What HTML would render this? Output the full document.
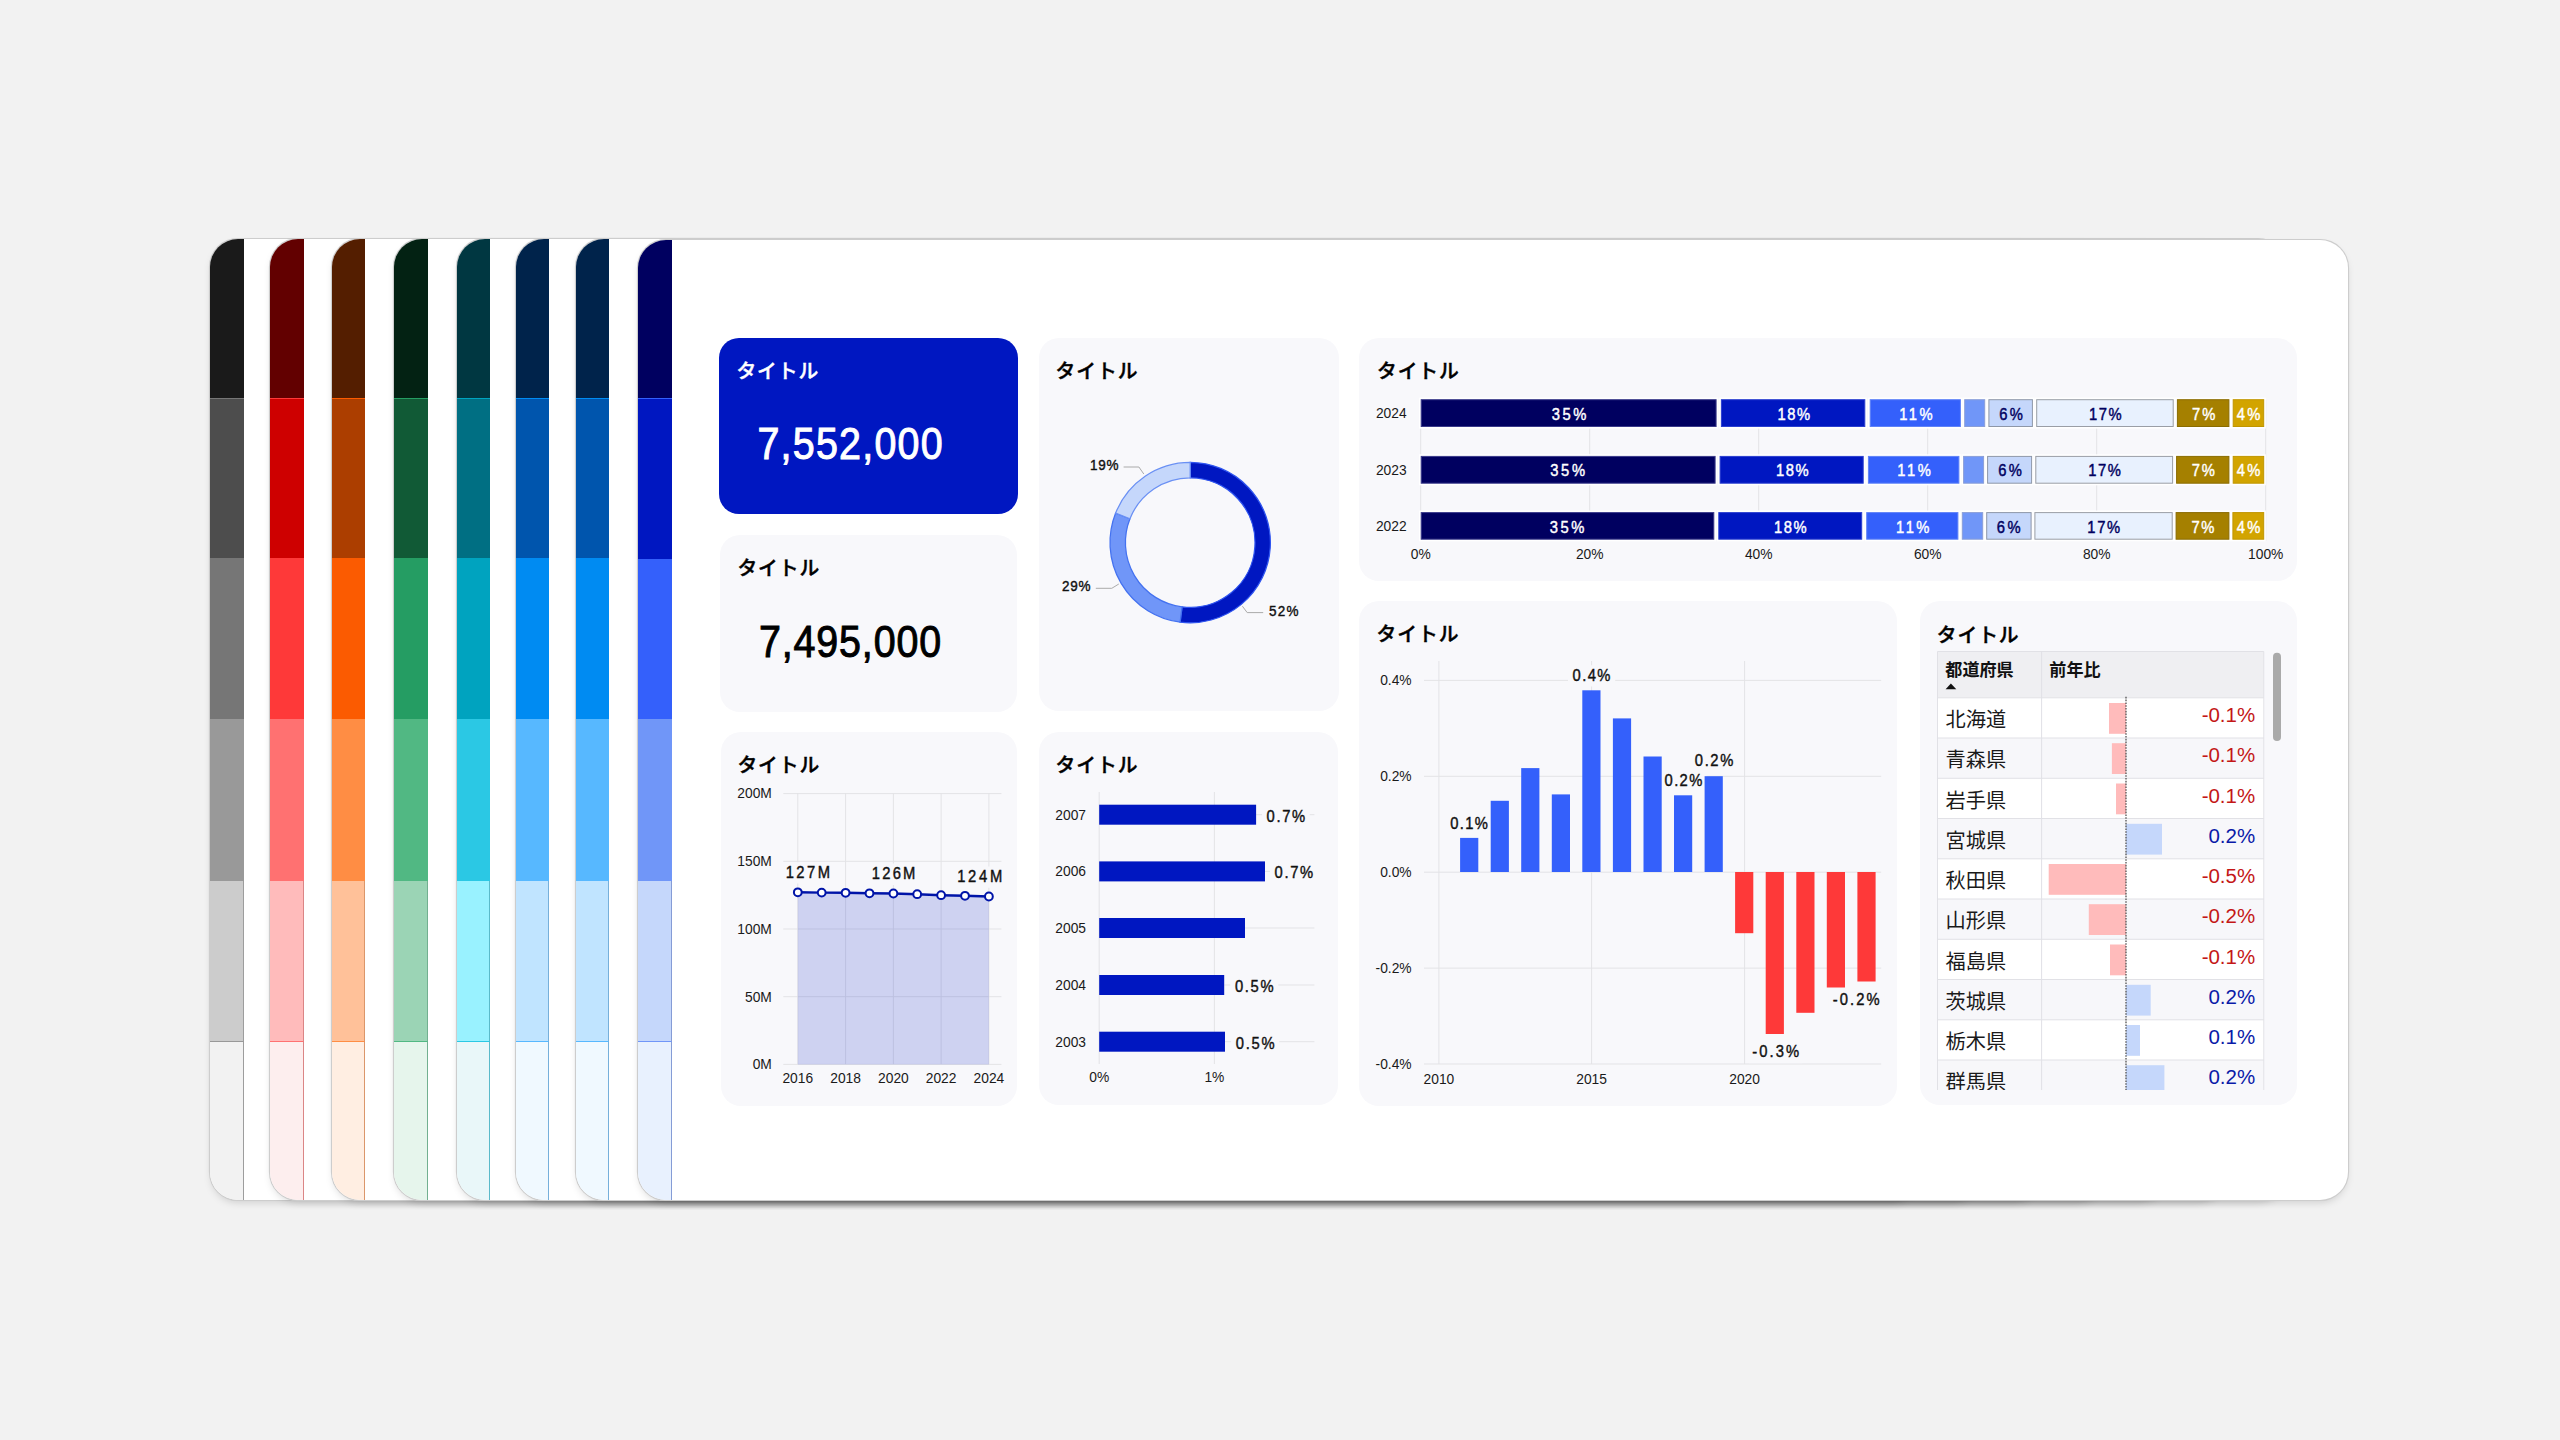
<!DOCTYPE html>
<html lang="ja"><head><meta charset="utf-8"><title>Dashboard</title>
<style>
html,body{margin:0;padding:0}
body{width:2560px;height:1440px;background:#f2f2f2;position:relative;overflow:hidden;font-family:"Liberation Sans", "Noto Sans CJK JP", sans-serif}
.card{position:absolute;background:#fff;border-radius:28px;overflow:hidden;box-shadow:0 0 0 1.1px #cdcdcd,0 4px 8px -2px rgba(0,0,0,.17)}
.strip{position:absolute;left:0;top:0;width:33.6px;height:100%}
.seg{position:absolute;left:0;width:100%;box-sizing:border-box}
.panel{position:absolute;background:#f8f8fb;border-radius:20px}
svg{position:absolute;left:0;top:0}
svg text{font-family:"Liberation Sans", "Noto Sans CJK JP", sans-serif}
.t{font-weight:700;font-size:20px}
.ax{font-size:13.8px}
</style></head><body>
<div class="card" style="left:210.0px;top:239px;width:1710.4px;height:961px"><div class="strip">
<div class="seg" style="top:0.0px;height:158.5px;background:#1A1A1A;"></div>
<div class="seg" style="top:158.5px;height:160.8px;background:#4D4D4D;border-top:1.3px solid #767676;"></div>
<div class="seg" style="top:319.3px;height:160.3px;background:#767676;"></div>
<div class="seg" style="top:479.6px;height:162.0px;background:#999999;"></div>
<div class="seg" style="top:641.6px;height:160.1px;background:#CCCCCC;border-right:1px solid rgb(157,157,157);"></div>
<div class="seg" style="top:801.7px;height:159.3px;background:#F2F2F2;border-top:1.3px solid #999999;border-right:1px solid rgb(157,157,157);"></div>
</div></div>
<div class="card" style="left:270.4px;top:239px;width:1710.4px;height:961px"><div class="strip">
<div class="seg" style="top:0.0px;height:158.5px;background:#620000;"></div>
<div class="seg" style="top:158.5px;height:160.8px;background:#CE0000;border-top:1.3px solid #FE3939;"></div>
<div class="seg" style="top:319.3px;height:160.3px;background:#FE3939;"></div>
<div class="seg" style="top:479.6px;height:162.0px;background:#FF7171;"></div>
<div class="seg" style="top:641.6px;height:160.1px;background:#FFBBBB;border-right:1px solid rgb(219,133,133);"></div>
<div class="seg" style="top:801.7px;height:159.3px;background:#FDEEEE;border-top:1.3px solid #FF7171;border-right:1px solid rgb(219,133,133);"></div>
</div></div>
<div class="card" style="left:331.8px;top:239px;width:1710.4px;height:961px"><div class="strip">
<div class="seg" style="top:0.0px;height:158.5px;background:#541E00;"></div>
<div class="seg" style="top:158.5px;height:160.8px;background:#AC3E00;border-top:1.3px solid #FB5B01;"></div>
<div class="seg" style="top:319.3px;height:160.3px;background:#FB5B01;"></div>
<div class="seg" style="top:479.6px;height:162.0px;background:#FF8D44;"></div>
<div class="seg" style="top:641.6px;height:160.1px;background:#FFC199;border-right:1px solid rgb(219,150,106);"></div>
<div class="seg" style="top:801.7px;height:159.3px;background:#FFEEE2;border-top:1.3px solid #FF8D44;border-right:1px solid rgb(219,150,106);"></div>
</div></div>
<div class="card" style="left:394.4px;top:239px;width:1710.4px;height:961px"><div class="strip">
<div class="seg" style="top:0.0px;height:158.5px;background:#032213;"></div>
<div class="seg" style="top:158.5px;height:160.8px;background:#115A36;border-top:1.3px solid #259D63;"></div>
<div class="seg" style="top:319.3px;height:160.3px;background:#259D63;"></div>
<div class="seg" style="top:479.6px;height:162.0px;background:#51B883;"></div>
<div class="seg" style="top:641.6px;height:160.1px;background:#9BD4B5;border-right:1px solid rgb(114,176,144);"></div>
<div class="seg" style="top:801.7px;height:159.3px;background:#E6F5EC;border-top:1.3px solid #51B883;border-right:1px solid rgb(114,176,144);"></div>
</div></div>
<div class="card" style="left:456.9px;top:239px;width:1710.4px;height:961px"><div class="strip">
<div class="seg" style="top:0.0px;height:158.5px;background:#003741;"></div>
<div class="seg" style="top:158.5px;height:160.8px;background:#006F83;border-top:1.3px solid #00A3BF;"></div>
<div class="seg" style="top:319.3px;height:160.3px;background:#00A3BF;"></div>
<div class="seg" style="top:479.6px;height:162.0px;background:#2BC8E4;"></div>
<div class="seg" style="top:641.6px;height:160.1px;background:#99F2FF;border-right:1px solid rgb(91,186,202);"></div>
<div class="seg" style="top:801.7px;height:159.3px;background:#E9F7F9;border-top:1.3px solid #2BC8E4;border-right:1px solid rgb(91,186,202);"></div>
</div></div>
<div class="card" style="left:515.8px;top:239px;width:1710.4px;height:961px"><div class="strip">
<div class="seg" style="top:0.0px;height:158.5px;background:#00234B;"></div>
<div class="seg" style="top:158.5px;height:160.8px;background:#0055AD;border-top:1.3px solid #008BF2;"></div>
<div class="seg" style="top:319.3px;height:160.3px;background:#008BF2;"></div>
<div class="seg" style="top:479.6px;height:162.0px;background:#57B8FF;"></div>
<div class="seg" style="top:641.6px;height:160.1px;background:#C0E4FF;border-right:1px solid rgb(118,176,219);"></div>
<div class="seg" style="top:801.7px;height:159.3px;background:#F0F9FF;border-top:1.3px solid #57B8FF;border-right:1px solid rgb(118,176,219);"></div>
</div></div>
<div class="card" style="left:575.8px;top:239px;width:1710.4px;height:961px"><div class="strip">
<div class="seg" style="top:0.0px;height:158.5px;background:#00234B;"></div>
<div class="seg" style="top:158.5px;height:160.8px;background:#0055AD;border-top:1.3px solid #008BF2;"></div>
<div class="seg" style="top:319.3px;height:160.3px;background:#008BF2;"></div>
<div class="seg" style="top:479.6px;height:162.0px;background:#57B8FF;"></div>
<div class="seg" style="top:641.6px;height:160.1px;background:#C0E4FF;border-right:1px solid rgb(118,176,219);"></div>
<div class="seg" style="top:801.7px;height:159.3px;background:#F0F9FF;border-top:1.3px solid #57B8FF;border-right:1px solid rgb(118,176,219);"></div>
</div></div>
<div class="card" style="left:638.3px;top:240px;width:1709.4px;height:960px"><div class="strip">
<div class="seg" style="top:0.0px;height:158.1px;background:#000060;"></div>
<div class="seg" style="top:158.1px;height:160.8px;background:#0017C1;border-top:1.3px solid #3460FB;"></div>
<div class="seg" style="top:318.9px;height:160.3px;background:#3460FB;"></div>
<div class="seg" style="top:479.2px;height:162.0px;background:#7096F8;"></div>
<div class="seg" style="top:641.2px;height:160.1px;background:#C5D7FB;border-right:1px solid rgb(133,156,214);"></div>
<div class="seg" style="top:801.3px;height:158.7px;background:#E8F1FE;border-top:1.3px solid #7096F8;border-right:1px solid rgb(133,156,214);"></div>
</div></div>
<div class="panel" style="left:719.0px;top:337.5px;width:299.0px;height:176.1px;background:#0017C1;border-radius:20px"></div>
<div class="panel" style="left:720.4px;top:534.6px;width:296.8px;height:177.2px;"></div>
<div class="panel" style="left:1038.5px;top:337.7px;width:300.5px;height:373.8px;"></div>
<div class="panel" style="left:1359.4px;top:337.8px;width:937.6px;height:242.8px;"></div>
<div class="panel" style="left:720.8px;top:731.7px;width:296.4px;height:374.0px;"></div>
<div class="panel" style="left:1038.9px;top:731.7px;width:299.5px;height:373.5px;"></div>
<div class="panel" style="left:1359.4px;top:601.2px;width:537.4px;height:504.5px;"></div>
<div class="panel" style="left:1919.9px;top:601.2px;width:377.1px;height:503.9px;"></div>
<svg width="2560" height="1440" viewBox="0 0 2560 1440">
<text x="736.4" y="377.9" font-size="19.8" letter-spacing="0.9" font-weight="500" fill="#fff" stroke="#fff" stroke-width="0.45">タイトル</text>
<text x="737.4" y="575.0" font-size="19.8" letter-spacing="0.9" font-weight="500" fill="#000" stroke="#000" stroke-width="0.45">タイトル</text>
<text x="1055.6" y="377.7" font-size="19.8" letter-spacing="0.9" font-weight="500" fill="#000" stroke="#000" stroke-width="0.45">タイトル</text>
<text x="1377.0" y="377.9" font-size="19.8" letter-spacing="0.9" font-weight="500" fill="#000" stroke="#000" stroke-width="0.45">タイトル</text>
<text x="737.4" y="771.8" font-size="19.8" letter-spacing="0.9" font-weight="500" fill="#000" stroke="#000" stroke-width="0.45">タイトル</text>
<text x="1055.6" y="771.8" font-size="19.8" letter-spacing="0.9" font-weight="500" fill="#000" stroke="#000" stroke-width="0.45">タイトル</text>
<text x="1376.6" y="641.4" font-size="19.8" letter-spacing="0.9" font-weight="500" fill="#000" stroke="#000" stroke-width="0.45">タイトル</text>
<text x="1936.8" y="641.5" font-size="19.8" letter-spacing="0.9" font-weight="500" fill="#000" stroke="#000" stroke-width="0.45">タイトル</text>
<text transform="translate(757.42 458.81) scale(0.9 1)" font-size="43.80" textLength="205.80" lengthAdjust="spacing" fill="#fff" stroke="#fff" stroke-width="1.00">7,552,000</text>
<text transform="translate(758.92 656.71) scale(0.9 1)" font-size="43.80" textLength="202.43" lengthAdjust="spacing" fill="#000" stroke="#000" stroke-width="1.00">7,495,000</text>
<path d="M1190.20 462.40A80.20 80.20 0 1 1 1180.15 622.17L1182.08 606.89A64.80 64.80 0 1 0 1190.20 477.80Z" fill="#0017C1" stroke="#2f55f0" stroke-width="1.25"/>
<path d="M1180.15 622.17A80.20 80.20 0 0 1 1115.63 513.08L1129.95 518.75A64.80 64.80 0 0 0 1182.08 606.89Z" fill="#7096F8" stroke="#4472f0" stroke-width="1.25"/>
<path d="M1115.63 513.08A80.20 80.20 0 0 1 1190.20 462.40L1190.20 477.80A64.80 64.80 0 0 0 1129.95 518.75Z" fill="#C5D7FB" stroke="#6a90f4" stroke-width="1.25"/>
<g fill="none" stroke="#aaa" stroke-width="1">
<path d="M1123.6 467H1138.9L1143.8 474"/>
<path d="M1095.8 588.3H1111.8L1118.8 584"/>
<path d="M1242.4 606.2L1247.2 612.6H1263.2"/>
</g>
<text transform="translate(1089.98 469.90) scale(0.9 1)" font-size="15.00" textLength="31.80" lengthAdjust="spacing" fill="#111" stroke="#111" stroke-width="0.42">19%</text>
<text transform="translate(1062.10 590.70) scale(0.9 1)" font-size="15.00" textLength="31.44" lengthAdjust="spacing" fill="#111" stroke="#111" stroke-width="0.42">29%</text>
<text transform="translate(1268.96 615.70) scale(0.9 1)" font-size="15.00" textLength="32.70" lengthAdjust="spacing" fill="#111" stroke="#111" stroke-width="0.42">52%</text>
<g stroke="#e3e3e6" stroke-width="1">
<line x1="1420.7" y1="400" x2="1420.7" y2="541" />
<line x1="1589.7" y1="400" x2="1589.7" y2="541" />
<line x1="1758.7" y1="400" x2="1758.7" y2="541" />
<line x1="1927.7" y1="400" x2="1927.7" y2="541" />
<line x1="2096.7" y1="400" x2="2096.7" y2="541" />
<line x1="2265.7" y1="400" x2="2265.7" y2="541" />
</g>
<text x="1391.3" y="417.9" class="ax" text-anchor="middle" fill="#1a1a1a">2024</text>
<rect x="1419.1" y="397.6" width="299.1" height="31.0" fill="#fff"/>
<rect x="1719.3" y="397.6" width="147.6" height="31.0" fill="#fff"/>
<rect x="1868.1" y="397.6" width="94.4" height="31.0" fill="#fff"/>
<rect x="1962.6" y="397.6" width="24.2" height="31.0" fill="#fff"/>
<rect x="1986.8" y="397.6" width="47.7" height="31.0" fill="#fff"/>
<rect x="2034.6" y="397.6" width="140.7" height="31.0" fill="#fff"/>
<rect x="2175.3" y="397.6" width="55.7" height="31.0" fill="#fff"/>
<rect x="2231.1" y="397.6" width="34.7" height="31.0" fill="#fff"/>
<rect x="1421.2" y="399.7" width="294.9" height="26.8" fill="#000060" stroke="#3a3a8a" stroke-width="1"/>
<rect x="1721.4" y="399.7" width="143.4" height="26.8" fill="#0017C1" stroke="#2a3fd0" stroke-width="1"/>
<rect x="1870.2" y="399.7" width="90.2" height="26.8" fill="#3460FB" stroke="#5f82f8" stroke-width="1"/>
<rect x="1964.7" y="399.7" width="20.0" height="26.8" fill="#7096F8" stroke="#8a9ed8" stroke-width="1"/>
<rect x="1988.9" y="399.7" width="43.5" height="26.8" fill="#C5D7FB" stroke="#8e97a8" stroke-width="1"/>
<rect x="2036.7" y="399.7" width="136.5" height="26.8" fill="#E8F1FE" stroke="#9a9ea6" stroke-width="1"/>
<rect x="2177.4" y="399.7" width="51.5" height="26.8" fill="#A58000" stroke="#8a6c00" stroke-width="1"/>
<rect x="2233.2" y="399.7" width="30.5" height="26.8" fill="#D2A400" stroke="#c09600" stroke-width="1"/>
<text x="1391.3" y="474.6" class="ax" text-anchor="middle" fill="#1a1a1a">2023</text>
<rect x="1419.1" y="454.3" width="298.1" height="31.0" fill="#fff"/>
<rect x="1718.0" y="454.3" width="147.3" height="31.0" fill="#fff"/>
<rect x="1866.3" y="454.3" width="94.7" height="31.0" fill="#fff"/>
<rect x="1961.5" y="454.3" width="24.2" height="31.0" fill="#fff"/>
<rect x="1985.5" y="454.3" width="48.2" height="31.0" fill="#fff"/>
<rect x="2033.7" y="454.3" width="141.0" height="31.0" fill="#fff"/>
<rect x="2174.5" y="454.3" width="56.5" height="31.0" fill="#fff"/>
<rect x="2231.1" y="454.3" width="34.7" height="31.0" fill="#fff"/>
<rect x="1421.2" y="456.4" width="293.9" height="26.8" fill="#000060" stroke="#3a3a8a" stroke-width="1"/>
<rect x="1720.1" y="456.4" width="143.1" height="26.8" fill="#0017C1" stroke="#2a3fd0" stroke-width="1"/>
<rect x="1868.4" y="456.4" width="90.5" height="26.8" fill="#3460FB" stroke="#5f82f8" stroke-width="1"/>
<rect x="1963.6" y="456.4" width="20.0" height="26.8" fill="#7096F8" stroke="#8a9ed8" stroke-width="1"/>
<rect x="1987.6" y="456.4" width="44.0" height="26.8" fill="#C5D7FB" stroke="#8e97a8" stroke-width="1"/>
<rect x="2035.8" y="456.4" width="136.8" height="26.8" fill="#E8F1FE" stroke="#9a9ea6" stroke-width="1"/>
<rect x="2176.6" y="456.4" width="52.3" height="26.8" fill="#A58000" stroke="#8a6c00" stroke-width="1"/>
<rect x="2233.2" y="456.4" width="30.5" height="26.8" fill="#D2A400" stroke="#c09600" stroke-width="1"/>
<text x="1391.3" y="530.7" class="ax" text-anchor="middle" fill="#1a1a1a">2022</text>
<rect x="1419.1" y="510.5" width="296.8" height="30.8" fill="#fff"/>
<rect x="1716.7" y="510.5" width="147.1" height="30.8" fill="#fff"/>
<rect x="1864.6" y="510.5" width="95.4" height="30.8" fill="#fff"/>
<rect x="1960.2" y="510.5" width="24.6" height="30.8" fill="#fff"/>
<rect x="1984.6" y="510.5" width="48.6" height="30.8" fill="#fff"/>
<rect x="2032.8" y="510.5" width="141.5" height="30.8" fill="#fff"/>
<rect x="2174.0" y="510.5" width="57.0" height="30.8" fill="#fff"/>
<rect x="2230.8" y="510.5" width="35.0" height="30.8" fill="#fff"/>
<rect x="1421.2" y="512.6" width="292.6" height="26.6" fill="#000060" stroke="#3a3a8a" stroke-width="1"/>
<rect x="1718.8" y="512.6" width="142.9" height="26.6" fill="#0017C1" stroke="#2a3fd0" stroke-width="1"/>
<rect x="1866.7" y="512.6" width="91.2" height="26.6" fill="#3460FB" stroke="#5f82f8" stroke-width="1"/>
<rect x="1962.3" y="512.6" width="20.4" height="26.6" fill="#7096F8" stroke="#8a9ed8" stroke-width="1"/>
<rect x="1986.7" y="512.6" width="44.4" height="26.6" fill="#C5D7FB" stroke="#8e97a8" stroke-width="1"/>
<rect x="2034.9" y="512.6" width="137.3" height="26.6" fill="#E8F1FE" stroke="#9a9ea6" stroke-width="1"/>
<rect x="2176.1" y="512.6" width="52.8" height="26.6" fill="#A58000" stroke="#8a6c00" stroke-width="1"/>
<rect x="2232.9" y="512.6" width="30.8" height="26.6" fill="#D2A400" stroke="#c09600" stroke-width="1"/>
<text x="1420.7" y="558.5" class="ax" text-anchor="middle" fill="#1a1a1a">0%</text>
<text x="1589.7" y="558.5" class="ax" text-anchor="middle" fill="#1a1a1a">20%</text>
<text x="1758.7" y="558.5" class="ax" text-anchor="middle" fill="#1a1a1a">40%</text>
<text x="1927.7" y="558.5" class="ax" text-anchor="middle" fill="#1a1a1a">60%</text>
<text x="2096.7" y="558.5" class="ax" text-anchor="middle" fill="#1a1a1a">80%</text>
<text x="2265.7" y="558.5" class="ax" text-anchor="middle" fill="#1a1a1a">100%</text>
<text transform="translate(1551.68 419.90) scale(0.9 1)" font-size="16.40" textLength="38.43" lengthAdjust="spacing" fill="#fff" stroke="#fff" stroke-width="0.45">35%</text>
<text transform="translate(1777.51 419.90) scale(0.9 1)" font-size="16.40" textLength="36.22" lengthAdjust="spacing" fill="#fff" stroke="#fff" stroke-width="0.45">18%</text>
<text transform="translate(1899.22 419.90) scale(0.9 1)" font-size="16.40" textLength="37.20" lengthAdjust="spacing" fill="#fff" stroke="#fff" stroke-width="0.45">11%</text>
<text transform="translate(1999.18 419.90) scale(0.9 1)" font-size="16.40" textLength="26.33" lengthAdjust="spacing" fill="#000060" stroke="#000060" stroke-width="0.45">6%</text>
<text transform="translate(2089.11 419.90) scale(0.9 1)" font-size="16.40" textLength="36.27" lengthAdjust="spacing" fill="#000060" stroke="#000060" stroke-width="0.45">17%</text>
<text transform="translate(2192.10 419.90) scale(0.9 1)" font-size="16.40" textLength="25.82" lengthAdjust="spacing" fill="#fff" stroke="#fff" stroke-width="0.45">7%</text>
<text transform="translate(2236.64 419.90) scale(0.9 1)" font-size="16.40" textLength="26.30" lengthAdjust="spacing" fill="#fff" stroke="#fff" stroke-width="0.45">4%</text>
<text transform="translate(1550.28 476.20) scale(0.9 1)" font-size="16.40" textLength="38.64" lengthAdjust="spacing" fill="#fff" stroke="#fff" stroke-width="0.45">35%</text>
<text transform="translate(1776.00 476.20) scale(0.9 1)" font-size="16.40" textLength="36.16" lengthAdjust="spacing" fill="#fff" stroke="#fff" stroke-width="0.45">18%</text>
<text transform="translate(1897.32 476.20) scale(0.9 1)" font-size="16.40" textLength="37.20" lengthAdjust="spacing" fill="#fff" stroke="#fff" stroke-width="0.45">11%</text>
<text transform="translate(1998.28 476.20) scale(0.9 1)" font-size="16.40" textLength="26.15" lengthAdjust="spacing" fill="#000060" stroke="#000060" stroke-width="0.45">6%</text>
<text transform="translate(2088.21 476.20) scale(0.9 1)" font-size="16.40" textLength="36.22" lengthAdjust="spacing" fill="#000060" stroke="#000060" stroke-width="0.45">17%</text>
<text transform="translate(2191.80 476.20) scale(0.9 1)" font-size="16.40" textLength="25.57" lengthAdjust="spacing" fill="#fff" stroke="#fff" stroke-width="0.45">7%</text>
<text transform="translate(2236.64 476.20) scale(0.9 1)" font-size="16.40" textLength="26.30" lengthAdjust="spacing" fill="#fff" stroke="#fff" stroke-width="0.45">4%</text>
<text transform="translate(1549.77 532.70) scale(0.9 1)" font-size="16.40" textLength="38.37" lengthAdjust="spacing" fill="#fff" stroke="#fff" stroke-width="0.45">35%</text>
<text transform="translate(1774.11 532.70) scale(0.9 1)" font-size="16.40" textLength="36.27" lengthAdjust="spacing" fill="#fff" stroke="#fff" stroke-width="0.45">18%</text>
<text transform="translate(1896.02 532.70) scale(0.9 1)" font-size="16.40" textLength="37.20" lengthAdjust="spacing" fill="#fff" stroke="#fff" stroke-width="0.45">11%</text>
<text transform="translate(1996.78 532.70) scale(0.9 1)" font-size="16.40" textLength="26.41" lengthAdjust="spacing" fill="#000060" stroke="#000060" stroke-width="0.45">6%</text>
<text transform="translate(2087.21 532.70) scale(0.9 1)" font-size="16.40" textLength="36.66" lengthAdjust="spacing" fill="#000060" stroke="#000060" stroke-width="0.45">17%</text>
<text transform="translate(2191.40 532.70) scale(0.9 1)" font-size="16.40" textLength="25.57" lengthAdjust="spacing" fill="#fff" stroke="#fff" stroke-width="0.45">7%</text>
<text transform="translate(2236.64 532.70) scale(0.9 1)" font-size="16.40" textLength="26.30" lengthAdjust="spacing" fill="#fff" stroke="#fff" stroke-width="0.45">4%</text>
<g stroke="#e3e3e6" stroke-width="1">
<line x1="783.3" y1="793.6" x2="1001.4" y2="793.6"/>
<line x1="783.3" y1="861.3" x2="1001.4" y2="861.3"/>
<line x1="783.3" y1="929.0" x2="1001.4" y2="929.0"/>
<line x1="783.3" y1="996.7" x2="1001.4" y2="996.7"/>
<line x1="783.3" y1="1064.4" x2="1001.4" y2="1064.4"/>
<line x1="797.8" y1="793" x2="797.8" y2="1064.4"/>
<line x1="845.6" y1="793" x2="845.6" y2="1064.4"/>
<line x1="893.4" y1="793" x2="893.4" y2="1064.4"/>
<line x1="941.1" y1="793" x2="941.1" y2="1064.4"/>
<line x1="988.9" y1="793" x2="988.9" y2="1064.4"/>
</g>
<rect x="781.7" y="862.3" width="52.3" height="21.2" rx="2" fill="#f8f8fb"/>
<rect x="867.8" y="863.5" width="51.6" height="21.4" rx="2" fill="#f8f8fb"/>
<rect x="953.3" y="866.5" width="52.5" height="21.2" rx="2" fill="#f8f8fb"/>
<text x="771.8" y="798.4" class="ax" text-anchor="end" fill="#1a1a1a">200M</text>
<text x="771.8" y="866.1" class="ax" text-anchor="end" fill="#1a1a1a">150M</text>
<text x="771.8" y="933.8" class="ax" text-anchor="end" fill="#1a1a1a">100M</text>
<text x="771.8" y="1001.5" class="ax" text-anchor="end" fill="#1a1a1a">50M</text>
<text x="771.8" y="1069.2" class="ax" text-anchor="end" fill="#1a1a1a">0M</text>
<text x="797.8" y="1083.0" class="ax" text-anchor="middle" fill="#1a1a1a">2016</text>
<text x="845.6" y="1083.0" class="ax" text-anchor="middle" fill="#1a1a1a">2018</text>
<text x="893.4" y="1083.0" class="ax" text-anchor="middle" fill="#1a1a1a">2020</text>
<text x="941.1" y="1083.0" class="ax" text-anchor="middle" fill="#1a1a1a">2022</text>
<text x="988.9" y="1083.0" class="ax" text-anchor="middle" fill="#1a1a1a">2024</text>
<path d="M797.8 1064.4 L797.8 892.3 L821.7 892.6 L845.6 892.8 L869.5 893.3 L893.4 893.5 L917.2 894.2 L941.1 895.2 L965.0 895.8 L988.9 896.5 L988.9 1064.4Z" fill="#0017C1" fill-opacity="0.17"/>
<polyline points="797.8,892.3 821.7,892.6 845.6,892.8 869.5,893.3 893.4,893.5 917.2,894.2 941.1,895.2 965.0,895.8 988.9,896.5" fill="none" stroke="#0014A8" stroke-width="2.4"/>
<circle cx="797.8" cy="892.3" r="3.9" fill="#fff" stroke="#0014A8" stroke-width="2"/>
<circle cx="821.7" cy="892.6" r="3.9" fill="#fff" stroke="#0014A8" stroke-width="2"/>
<circle cx="845.6" cy="892.8" r="3.9" fill="#fff" stroke="#0014A8" stroke-width="2"/>
<circle cx="869.5" cy="893.3" r="3.9" fill="#fff" stroke="#0014A8" stroke-width="2"/>
<circle cx="893.4" cy="893.5" r="3.9" fill="#fff" stroke="#0014A8" stroke-width="2"/>
<circle cx="917.2" cy="894.2" r="3.9" fill="#fff" stroke="#0014A8" stroke-width="2"/>
<circle cx="941.1" cy="895.2" r="3.9" fill="#fff" stroke="#0014A8" stroke-width="2"/>
<circle cx="965.0" cy="895.8" r="3.9" fill="#fff" stroke="#0014A8" stroke-width="2"/>
<circle cx="988.9" cy="896.5" r="3.9" fill="#fff" stroke="#0014A8" stroke-width="2"/>
<text transform="translate(785.63 877.50) scale(0.9 1)" font-size="16.40" textLength="49.38" lengthAdjust="spacing" fill="#111" stroke="#111" stroke-width="0.42">127M</text>
<text transform="translate(871.73 878.90) scale(0.9 1)" font-size="16.40" textLength="48.52" lengthAdjust="spacing" fill="#111" stroke="#111" stroke-width="0.42">126M</text>
<text transform="translate(957.23 881.70) scale(0.9 1)" font-size="16.40" textLength="50.00" lengthAdjust="spacing" fill="#111" stroke="#111" stroke-width="0.42">124M</text>
<g stroke="#e3e3e6" stroke-width="1">
<line x1="1099.2" y1="792" x2="1099.2" y2="1064"/><line x1="1214.4" y1="792" x2="1214.4" y2="1064"/>
<line x1="1256.1" y1="814.7" x2="1314.4" y2="814.7"/>
<line x1="1265.0" y1="871.4" x2="1314.4" y2="871.4"/>
<line x1="1245.0" y1="928.0" x2="1314.4" y2="928.0"/>
<line x1="1224.2" y1="985.0" x2="1314.4" y2="985.0"/>
<line x1="1225.0" y1="1041.7" x2="1314.4" y2="1041.7"/>
</g>
<rect x="1262.0" y="805.9" width="47.7" height="21.8" rx="2" fill="#f8f8fb"/>
<rect x="1270.0" y="862.4" width="47.5" height="21.9" rx="2" fill="#f8f8fb"/>
<rect x="1230.3" y="976.1" width="48.0" height="21.7" rx="2" fill="#f8f8fb"/>
<rect x="1231.1" y="1032.8" width="48.1" height="21.8" rx="2" fill="#f8f8fb"/>
<rect x="1099.2" y="804.7" width="156.9" height="20" fill="#0017C1"/>
<text x="1070.7" y="819.5" class="ax" text-anchor="middle" fill="#1a1a1a">2007</text>
<rect x="1099.2" y="861.4" width="165.8" height="20" fill="#0017C1"/>
<text x="1070.7" y="876.2" class="ax" text-anchor="middle" fill="#1a1a1a">2006</text>
<rect x="1099.2" y="918.0" width="145.8" height="20" fill="#0017C1"/>
<text x="1070.7" y="932.8" class="ax" text-anchor="middle" fill="#1a1a1a">2005</text>
<rect x="1099.2" y="975.0" width="125.0" height="20" fill="#0017C1"/>
<text x="1070.7" y="989.8" class="ax" text-anchor="middle" fill="#1a1a1a">2004</text>
<rect x="1099.2" y="1031.7" width="125.8" height="20" fill="#0017C1"/>
<text x="1070.7" y="1046.5" class="ax" text-anchor="middle" fill="#1a1a1a">2003</text>
<text x="1099.2" y="1082.3" class="ax" text-anchor="middle" fill="#1a1a1a">0%</text>
<text x="1214.4" y="1082.3" class="ax" text-anchor="middle" fill="#1a1a1a">1%</text>
<text transform="translate(1266.61 821.70) scale(0.9 1)" font-size="16.40" textLength="42.90" lengthAdjust="spacing" fill="#111" stroke="#111" stroke-width="0.42">0.7%</text>
<text transform="translate(1274.61 878.32) scale(0.9 1)" font-size="16.40" textLength="42.78" lengthAdjust="spacing" fill="#111" stroke="#111" stroke-width="0.42">0.7%</text>
<text transform="translate(1234.91 991.80) scale(0.9 1)" font-size="16.40" textLength="42.90" lengthAdjust="spacing" fill="#111" stroke="#111" stroke-width="0.42">0.5%</text>
<text transform="translate(1235.71 1048.60) scale(0.9 1)" font-size="16.40" textLength="43.16" lengthAdjust="spacing" fill="#111" stroke="#111" stroke-width="0.42">0.5%</text>
<g stroke="#e3e3e6" stroke-width="1">
<line x1="1424" y1="680.4" x2="1881.2" y2="680.4"/>
<line x1="1424" y1="776.3" x2="1881.2" y2="776.3"/>
<line x1="1424" y1="872.2" x2="1881.2" y2="872.2"/>
<line x1="1424" y1="968.1" x2="1881.2" y2="968.1"/>
<line x1="1424" y1="1064.0" x2="1881.2" y2="1064.0"/>
<line x1="1438.9" y1="661" x2="1438.9" y2="1064"/>
<line x1="1591.6" y1="661" x2="1591.6" y2="1064"/>
<line x1="1744.6" y1="661" x2="1744.6" y2="1064"/>
</g>
<rect x="1445.7" y="813.0" width="46.7" height="21.5" rx="2" fill="#f8f8fb"/>
<rect x="1568.0" y="665.3" width="47.2" height="21.3" rx="2" fill="#f8f8fb"/>
<rect x="1660.0" y="770.8" width="46.6" height="21.2" rx="2" fill="#f8f8fb"/>
<rect x="1690.2" y="751.5" width="47.5" height="20.9" rx="2" fill="#f8f8fb"/>
<rect x="1747.7" y="1041.8" width="56.2" height="21.4" rx="2" fill="#f8f8fb"/>
<rect x="1828.2" y="989.5" width="56.2" height="21.5" rx="2" fill="#f8f8fb"/>
<text x="1411.6" y="685.2" class="ax" text-anchor="end" fill="#1a1a1a">0.4%</text>
<text x="1411.6" y="781.1" class="ax" text-anchor="end" fill="#1a1a1a">0.2%</text>
<text x="1411.6" y="877.0" class="ax" text-anchor="end" fill="#1a1a1a">0.0%</text>
<text x="1411.6" y="972.9" class="ax" text-anchor="end" fill="#1a1a1a">-0.2%</text>
<text x="1411.6" y="1068.8" class="ax" text-anchor="end" fill="#1a1a1a">-0.4%</text>
<text x="1438.9" y="1084.3" class="ax" text-anchor="middle" fill="#1a1a1a">2010</text>
<text x="1591.6" y="1084.3" class="ax" text-anchor="middle" fill="#1a1a1a">2015</text>
<text x="1744.6" y="1084.3" class="ax" text-anchor="middle" fill="#1a1a1a">2020</text>
<rect x="1460.1" y="837.9" width="18.2" height="34.1" fill="#3460FB"/>
<rect x="1490.7" y="800.8" width="18.2" height="71.2" fill="#3460FB"/>
<rect x="1521.2" y="768.1" width="18.2" height="103.9" fill="#3460FB"/>
<rect x="1551.8" y="794.4" width="18.2" height="77.6" fill="#3460FB"/>
<rect x="1582.3" y="690.3" width="18.2" height="181.7" fill="#3460FB"/>
<rect x="1612.9" y="718.4" width="18.2" height="153.6" fill="#3460FB"/>
<rect x="1643.5" y="756.5" width="18.2" height="115.5" fill="#3460FB"/>
<rect x="1674.0" y="795.3" width="18.2" height="76.7" fill="#3460FB"/>
<rect x="1704.6" y="776.2" width="18.2" height="95.8" fill="#3460FB"/>
<rect x="1735.1" y="872" width="18.2" height="61.2" fill="#FE3939"/>
<rect x="1765.7" y="872" width="18.2" height="162.0" fill="#FE3939"/>
<rect x="1796.3" y="872" width="18.2" height="140.8" fill="#FE3939"/>
<rect x="1826.8" y="872" width="18.2" height="115.5" fill="#FE3939"/>
<rect x="1857.4" y="872" width="18.2" height="109.5" fill="#FE3939"/>
<text transform="translate(1450.31 828.50) scale(0.9 1)" font-size="16.40" textLength="41.75" lengthAdjust="spacing" fill="#111" stroke="#111" stroke-width="0.42">0.1%</text>
<text transform="translate(1572.61 680.60) scale(0.9 1)" font-size="16.40" textLength="42.10" lengthAdjust="spacing" fill="#111" stroke="#111" stroke-width="0.42">0.4%</text>
<text transform="translate(1664.61 786.00) scale(0.9 1)" font-size="16.40" textLength="41.86" lengthAdjust="spacing" fill="#111" stroke="#111" stroke-width="0.42">0.2%</text>
<text transform="translate(1694.81 766.40) scale(0.9 1)" font-size="16.40" textLength="42.78" lengthAdjust="spacing" fill="#111" stroke="#111" stroke-width="0.42">0.2%</text>
<text transform="translate(1752.31 1057.20) scale(0.9 1)" font-size="16.40" textLength="52.13" lengthAdjust="spacing" fill="#111" stroke="#111" stroke-width="0.42">-0.3%</text>
<text transform="translate(1832.81 1005.00) scale(0.9 1)" font-size="16.40" textLength="52.13" lengthAdjust="spacing" fill="#111" stroke="#111" stroke-width="0.42">-0.2%</text>
<clipPath id="tc"><rect x="1936.5" y="650.5" width="328.3" height="439.5"/></clipPath>
<g clip-path="url(#tc)">
<rect x="1937.5" y="651.5" width="326.3" height="46.3" fill="#efeff2"/>
<rect x="1937.5" y="697.8" width="326.3" height="40.2" fill="#fff"/>
<rect x="2109.0" y="703.0" width="17.0" height="30.8" fill="#FFBBBB"/>
<rect x="1937.5" y="738.0" width="326.3" height="40.2" fill="#f7f7fa"/>
<rect x="2111.9" y="743.2" width="14.1" height="30.8" fill="#FFBBBB"/>
<rect x="1937.5" y="778.3" width="326.3" height="40.2" fill="#fff"/>
<rect x="2116.0" y="783.5" width="10.0" height="30.8" fill="#FFBBBB"/>
<rect x="1937.5" y="818.5" width="326.3" height="40.2" fill="#f7f7fa"/>
<rect x="2126.0" y="823.8" width="36.0" height="30.8" fill="#C5D7FB"/>
<rect x="1937.5" y="858.8" width="326.3" height="40.2" fill="#fff"/>
<rect x="2048.7" y="864.0" width="77.3" height="30.8" fill="#FFBBBB"/>
<rect x="1937.5" y="899.0" width="326.3" height="40.2" fill="#f7f7fa"/>
<rect x="2088.8" y="904.2" width="37.2" height="30.8" fill="#FFBBBB"/>
<rect x="1937.5" y="939.3" width="326.3" height="40.2" fill="#fff"/>
<rect x="2110.0" y="944.5" width="16.0" height="30.8" fill="#FFBBBB"/>
<rect x="1937.5" y="979.5" width="326.3" height="40.2" fill="#f7f7fa"/>
<rect x="2126.0" y="984.8" width="24.7" height="30.8" fill="#C5D7FB"/>
<rect x="1937.5" y="1019.8" width="326.3" height="40.2" fill="#fff"/>
<rect x="2126.0" y="1025.0" width="14.0" height="30.8" fill="#C5D7FB"/>
<rect x="1937.5" y="1060.0" width="326.3" height="40.2" fill="#f7f7fa"/>
<rect x="2126.0" y="1065.2" width="38.4" height="30.8" fill="#C5D7FB"/>
<g stroke="#e1e1e6" stroke-width="1">
<line x1="1937.5" y1="697.8" x2="2263.8" y2="697.8"/>
<line x1="1937.5" y1="738.0" x2="2263.8" y2="738.0"/>
<line x1="1937.5" y1="778.3" x2="2263.8" y2="778.3"/>
<line x1="1937.5" y1="818.5" x2="2263.8" y2="818.5"/>
<line x1="1937.5" y1="858.8" x2="2263.8" y2="858.8"/>
<line x1="1937.5" y1="899.0" x2="2263.8" y2="899.0"/>
<line x1="1937.5" y1="939.3" x2="2263.8" y2="939.3"/>
<line x1="1937.5" y1="979.5" x2="2263.8" y2="979.5"/>
<line x1="1937.5" y1="1019.8" x2="2263.8" y2="1019.8"/>
<line x1="1937.5" y1="1060.0" x2="2263.8" y2="1060.0"/>
<line x1="1937.5" y1="1100.3" x2="2263.8" y2="1100.3"/>
<line x1="1937.5" y1="1140.5" x2="2263.8" y2="1140.5"/>
<line x1="1937.5" y1="651.5" x2="2263.8" y2="651.5"/>
<line x1="1937.5" y1="651.5" x2="1937.5" y2="1095"/>
<line x1="2041.6" y1="651.5" x2="2041.6" y2="1095"/>
<line x1="2263.8" y1="651.5" x2="2263.8" y2="1095"/>
</g>
<line x1="2126.0" y1="696.8" x2="2126.0" y2="1095" stroke="#444" stroke-width="1.2" stroke-dasharray="1.6 1.2"/>
<text x="1945.6" y="727.1" font-size="20.2" fill="#1a1a1a">北海道</text>
<text x="2255.2" y="722.1" font-size="20.5" text-anchor="end" fill="#C41717">-0.1%</text>
<text x="1945.6" y="767.3" font-size="20.2" fill="#1a1a1a">青森県</text>
<text x="2255.2" y="762.3" font-size="20.5" text-anchor="end" fill="#C41717">-0.1%</text>
<text x="1945.6" y="807.6" font-size="20.2" fill="#1a1a1a">岩手県</text>
<text x="2255.2" y="802.6" font-size="20.5" text-anchor="end" fill="#C41717">-0.1%</text>
<text x="1945.6" y="847.8" font-size="20.2" fill="#1a1a1a">宮城県</text>
<text x="2255.2" y="842.8" font-size="20.5" text-anchor="end" fill="#0A1AA8">0.2%</text>
<text x="1945.6" y="888.1" font-size="20.2" fill="#1a1a1a">秋田県</text>
<text x="2255.2" y="883.1" font-size="20.5" text-anchor="end" fill="#C41717">-0.5%</text>
<text x="1945.6" y="928.3" font-size="20.2" fill="#1a1a1a">山形県</text>
<text x="2255.2" y="923.3" font-size="20.5" text-anchor="end" fill="#C41717">-0.2%</text>
<text x="1945.6" y="968.6" font-size="20.2" fill="#1a1a1a">福島県</text>
<text x="2255.2" y="963.6" font-size="20.5" text-anchor="end" fill="#C41717">-0.1%</text>
<text x="1945.6" y="1008.8" font-size="20.2" fill="#1a1a1a">茨城県</text>
<text x="2255.2" y="1003.8" font-size="20.5" text-anchor="end" fill="#0A1AA8">0.2%</text>
<text x="1945.6" y="1049.1" font-size="20.2" fill="#1a1a1a">栃木県</text>
<text x="2255.2" y="1044.1" font-size="20.5" text-anchor="end" fill="#0A1AA8">0.1%</text>
<text x="1945.6" y="1089.3" font-size="20.2" fill="#1a1a1a">群馬県</text>
<text x="2255.2" y="1084.3" font-size="20.5" text-anchor="end" fill="#0A1AA8">0.2%</text>
<text x="1945.3" y="676.3" font-size="17.1" fill="#111" font-weight="700">都道府県</text>
<text x="2049.3" y="676.3" font-size="17.1" fill="#111" font-weight="700">前年比</text>
<path d="M1945.6 689.2L1950.9 683.6L1956.3 689.2Z" fill="#111"/>
</g>
<rect x="2273" y="652.8" width="8" height="88.3" rx="4" fill="#aaaaaa"/>
</svg></body></html>
